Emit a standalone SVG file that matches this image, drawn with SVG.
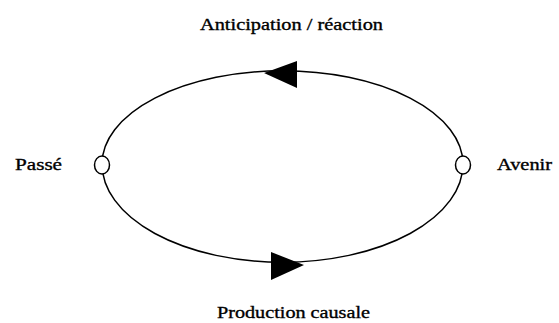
<svg xmlns="http://www.w3.org/2000/svg" width="559" height="323" viewBox="0 0 559 323">
<style>
.lbl{font-family:"Liberation Serif","Times New Roman",serif;font-size:17px;fill:#000;stroke:#000;stroke-width:0.35;}
.edge{fill:none;stroke:#000;stroke-width:1.5;}
.node{fill:#fff;stroke:#000;stroke-width:1.5;}
.arr{fill:#000;stroke:none;}
</style>
<rect width="559" height="323" fill="#fff"/>
<g id="connectors">
<path class="edge" d="M102,164 A180,93 0 0 1 463,164"/>
<path class="edge" d="M102,164 A180,98 0 0 0 463,164"/>
<polygon class="arr" points="264,73 297,61 297,88"/>
<polygon class="arr" points="271,252 271,280 304,265"/>
</g>
<g id="passe">
<ellipse class="node" cx="102" cy="165" rx="7.5" ry="9"/>
<text class="lbl" x="15" y="170" textLength="47" lengthAdjust="spacingAndGlyphs">Passé</text>
</g>
<g id="avenir">
<ellipse class="node" cx="463" cy="165" rx="7.5" ry="9"/>
<text class="lbl" x="497" y="170" textLength="55" lengthAdjust="spacingAndGlyphs">Avenir</text>
</g>
<g id="top-label">
<text class="lbl" x="200" y="30" textLength="183" lengthAdjust="spacingAndGlyphs">Anticipation / réaction</text>
</g>
<g id="bottom-label">
<text class="lbl" x="217" y="318" textLength="153" lengthAdjust="spacingAndGlyphs">Production causale</text>
</g>
</svg>
